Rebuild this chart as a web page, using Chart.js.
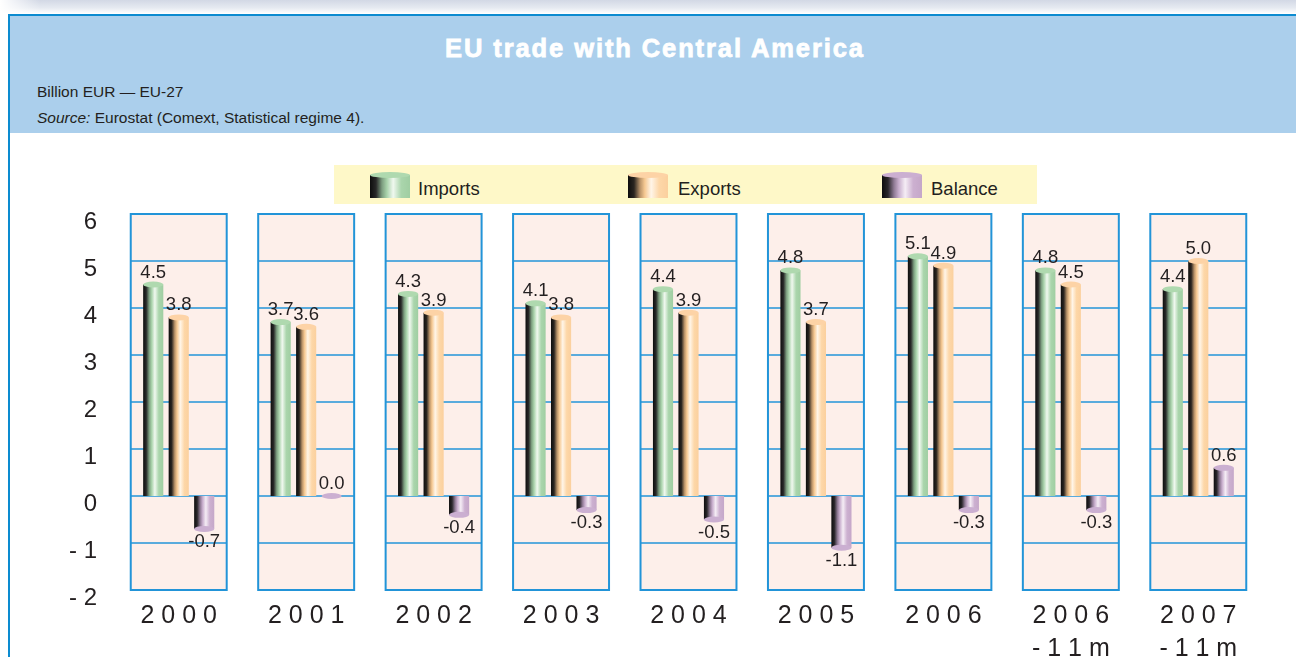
<!DOCTYPE html>
<html><head><meta charset="utf-8">
<script src="https://cdn.jsdelivr.net/npm/chart.js@4.4.1/dist/chart.umd.min.js"></script>
<style>
html,body{margin:0;padding:0;width:1296px;height:657px;overflow:hidden;background:#fff;font-family:"Liberation Sans",Arial,sans-serif;}
#topstrip{position:absolute;left:0;top:0;width:1296px;height:13px;background:linear-gradient(to bottom,#d2d8e5,#e6eaf1 60%,#fbfcfd);}
#topfade{position:absolute;left:0;top:0;width:40px;height:13px;background:linear-gradient(to right,#fff,rgba(255,255,255,0));}
#frame{position:absolute;left:8px;top:14px;width:1288px;height:643px;border-left:2px solid #0c8bd0;border-top:2px solid #0c8bd0;box-sizing:border-box;}
#band{position:absolute;left:10px;top:16px;width:1286px;height:117px;background:#abcfec;}
#title{position:absolute;left:12px;top:36px;width:1286px;text-align:center;color:#fff;font-weight:bold;font-size:25.5px;line-height:25px;letter-spacing:1.9px;-webkit-text-stroke:0.8px #fff;}
.sub{position:absolute;left:37px;font-size:15.5px;line-height:15.5px;color:#231f20;white-space:nowrap;}
#legend{position:absolute;left:334px;top:165px;width:703px;height:39px;background:#fef8c8;}
.ic{position:absolute;top:10px;width:40px;height:23px;}
.ic::before{content:"";position:absolute;left:0;top:-3px;width:40px;height:6px;border-radius:50%;}
.lt{position:absolute;top:13px;font-size:18.5px;line-height:22px;color:#231f20;white-space:nowrap;}
#chart{position:absolute;left:0;top:0;}
</style>
</head><body>
<div id="topstrip"></div><div id="topfade"></div>
<div id="frame"></div>
<div id="band"></div>
<div id="title">EU trade with Central America</div>
<div class="sub" style="top:84px;">Billion EUR — EU-27</div>
<div class="sub" style="top:110px;"><i>Source:</i> Eurostat (Comext, Statistical regime 4).</div>
<canvas id="chart" width="1296" height="657"></canvas>
<div id="legend"></div>
<script>
const categories = ['2000','2001','2002','2003','2004','2005','2006','2006 -11m','2007 -11m'];
const seriesNames = ['Imports','Exports','Balance'];
const importsData = [4.5,3.7,4.3,4.1,4.4,4.8,5.1,4.8,4.4];
const exportsData = [3.8,3.6,3.9,3.8,3.9,3.7,4.9,4.5,5.0];
const balanceData = [-0.7,0.0,-0.4,-0.3,-0.5,-1.1,-0.3,-0.3,0.6];
const yMin = -2, yMax = 6, yStep = 1;

const looks = [
  {stops:[[0,'#0d0d0d'],[0.15,'#282828'],[0.3,'#7d9e80'],[0.42,'#a8d2aa'],[0.58,'#f0f8ef'],[0.78,'#aad5ac'],[1,'#a0cea2']], cap:'#afd9af'},
  {stops:[[0,'#0d0d0d'],[0.15,'#2a2520'],[0.3,'#b89268'],[0.42,'#f6c992'],[0.58,'#fff5e8'],[0.78,'#fdd7a8'],[1,'#fbd09e']], cap:'#fdd3a6'},
  {stops:[[0,'#0d0d0d'],[0.15,'#2a272b'],[0.3,'#8f7a94'],[0.42,'#c8aecd'],[0.58,'#f5edf5'],[0.78,'#ccb0d0'],[1,'#c5a7c9']], cap:'#cbafd1'}
];

// HTML legend
const legendPos = [[36,84],[294,344],[548,597]];
const legendEl = document.getElementById('legend');
seriesNames.forEach((n,i)=>{
  const ic = document.createElement('div');
  ic.className='ic';
  ic.id='ic'+i;
  ic.style.left = legendPos[i][0]+'px';
  ic.style.background = 'linear-gradient(to right,' + looks[i].stops.map(s=>s[1]+' '+(s[0]*100)+'%').join(',') + ')';
  const st = document.createElement('style');
  st.textContent = '#ic'+i+'::before{background:'+looks[i].cap+';}';
  document.head.appendChild(st);
  legendEl.appendChild(ic);
  const t = document.createElement('div');
  t.className='lt'; t.style.left = legendPos[i][1]+'px'; t.textContent = n;
  legendEl.appendChild(t);
});

const panelPlugin = {
  id:'panels',
  beforeDatasetsDraw(chart){
    const {ctx, chartArea:{top,bottom}, scales:{x,y}} = chart;
    const n = chart.data.labels.length;
    const half = (x.right - x.left)/n*0.753/2;
    ctx.save();
    chart.data.labels.forEach((_,i)=>{
      const cx = x.getPixelForValue(i);
      const l = cx-half, r = cx+half;
      ctx.fillStyle = '#fdefea';
      ctx.fillRect(l, top, r-l, bottom-top);
      ctx.strokeStyle = '#2294d8'; ctx.lineWidth = 1.5;
      y.ticks.forEach(t=>{
        const py = y.getPixelForValue(t.value);
        ctx.beginPath(); ctx.moveTo(l,py); ctx.lineTo(r,py); ctx.stroke();
      });
      ctx.lineWidth = 2;
      ctx.strokeRect(l, top, r-l, bottom-top);
    });
    ctx.restore();
  }
};

const cylPlugin = {
  id:'cylinders',
  afterDatasetsDraw(chart){
    const ctx = chart.ctx;
    ctx.save();
    chart.data.datasets.forEach((ds, di)=>{
      const meta = chart.getDatasetMeta(di);
      const lk = looks[di];
      meta.data.forEach((el, i)=>{
        const p = el.getProps(['x','y','base','width'], true);
        const l = p.x - p.width/2;
        const g = ctx.createLinearGradient(l,0,l+p.width,0);
        lk.stops.forEach(s=>g.addColorStop(s[0], s[1]));
        const t = Math.min(p.y,p.base), b = Math.max(p.y,p.base);
        ctx.fillStyle = g;
        ctx.fillRect(l, t, p.width, b-t);
        ctx.beginPath();
        ctx.ellipse(p.x, p.y, p.width/2, 3, 0, 0, Math.PI*2);
        ctx.fillStyle = lk.cap; ctx.fill();
        const v = ds.data[i];
        ctx.fillStyle = '#231f20';
        ctx.font = '18.5px "Liberation Sans", Arial, sans-serif';
        ctx.textAlign = 'center';
        if (v >= 0) { ctx.textBaseline = 'alphabetic'; ctx.fillText(v.toFixed(1), p.x, p.y - 7); }
        else { ctx.textBaseline = 'top'; ctx.fillText(v.toFixed(1), p.x, p.y + 4); }
      });
    });
    ctx.restore();
  }
};

new Chart(document.getElementById('chart'), {
  type:'bar',
  data:{
    labels: categories,
    datasets:[
      {label:seriesNames[0], data:importsData},
      {label:seriesNames[1], data:exportsData},
      {label:seriesNames[2], data:balanceData}
    ].map(d=>Object.assign(d,{backgroundColor:'rgba(0,0,0,0)', borderWidth:0, categoryPercentage:0.6, barPercentage:0.79}))
  },
  options:{
    responsive:false, animation:false, devicePixelRatio:1,
    layout:{padding:{top:214,right:34,bottom:0,left:0}},
    plugins:{legend:{display:false}, tooltip:{enabled:false}},
    scales:{
      x:{
        grid:{display:false, drawTicks:false}, border:{display:false},
        ticks:{font:{family:'Liberation Sans', size:25, lineHeight:1.3}, color:'#231f20', padding:10, maxRotation:0, autoSkip:false,
          callback:(v,i)=>categories[i].split(' ').map(s=>s.split('').join(' '))},
        afterFit(s){ s.height = 67; }
      },
      y:{
        min:yMin, max:yMax,
        grid:{display:false, drawTicks:false}, border:{display:false},
        ticks:{stepSize:yStep, font:{family:'Liberation Sans', size:24}, color:'#231f20', padding:18, labelOffset:8,
          callback:v=> v<0 ? '- '+Math.abs(v) : String(v)},
        afterFit(s){ s.width = 115; }
      }
    }
  },
  plugins:[panelPlugin, cylPlugin]
});
</script>
</body></html>
